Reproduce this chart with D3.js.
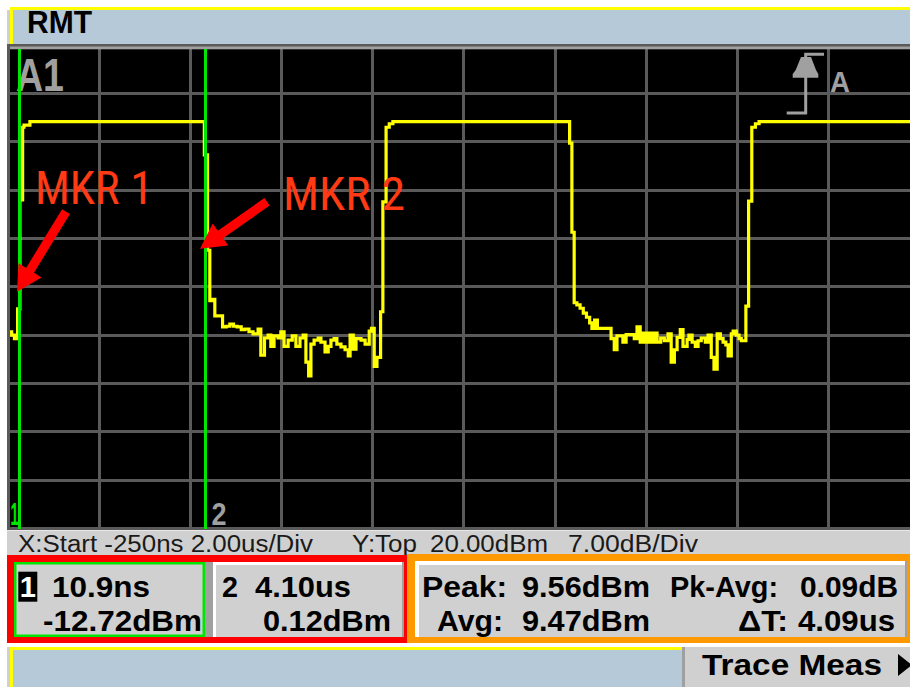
<!DOCTYPE html>
<html><head><meta charset="utf-8">
<script src="https://cdn.jsdelivr.net/npm/d3@7"></script>
<style>
html,body{margin:0;padding:0;background:#fff;}
svg{display:block;}
text{font-family:"Liberation Sans",Arial,sans-serif;}
</style></head>
<body>
<svg id="c" width="910" height="687"></svg>
<script>
// ---- instrument settings ----
const xStartNs = -250;
const xPerDivUs = 2.00;
const yTopDbm = 20.00;
const yPerDivDb = 7.00;
const divisionIndex = [0,1,2,3,4,5,6,7,8,9,10];

// ---- trace (time in us, power in dBm) ----
const traceTimeUs = [-0.25,-0.18,-0.12,-0.05,0.00,0.06,0.09,0.22,
 4.05,4.12,4.17,4.22,4.28,
 4.45,4.53,4.61,4.69,4.77,4.86,4.94,5.03,5.12,
 5.23,5.29,5.37,5.45,5.51,5.58,5.67,5.73,5.80,5.89,
 5.98,6.06,6.15,6.22,6.28,6.34,6.39,6.46,6.55,6.61,
 6.70,6.77,6.83,6.90,6.96,7.05,7.14,7.21,7.25,7.32,
 7.38,7.49,7.58,7.67,7.72,7.78,7.84,7.92,7.97,8.04,
 8.11,8.19,
 12.07,12.12,12.17,12.23,12.30,12.37,12.44,12.51,12.56,12.62,12.68,
 12.98,13.05,13.11,13.24,13.31,13.49,13.55,13.62,13.68,13.75,
 13.80,13.86,13.93,13.99,14.07,14.15,14.23,14.30,14.37,14.43,
 14.50,14.56,14.65,14.69,14.76,14.83,14.89,14.96,15.05,15.11,
 15.18,15.24,15.31,15.38,15.44,15.50,15.55,15.62,15.66,15.73,
 15.79,15.84,15.94,16.00,16.07,16.15,16.23,19.75];
const tracePowerDbm = [-21.5,-22.0,-22.5,-18.2,-2.4,8.1,8.4,8.9,
 4.1,-9.7,-17.0,-16.8,-19.2,
 -20.8,-20.7,-20.4,-20.7,-20.8,-21.2,-21.1,-21.5,-21.8,
 -21.1,-24.9,-22.4,-22.0,-23.6,-22.1,-22.4,-21.5,-23.6,-22.7,
 -22.1,-23.6,-22.4,-22.0,-25.9,-27.9,-23.3,-22.7,-22.4,-23.0,
 -24.4,-23.6,-22.7,-22.5,-23.3,-23.7,-24.1,-25.0,-22.0,-24.0,
 -22.5,-22.7,-23.3,-21.4,-21.0,-26.5,-25.2,-18.6,-2.7,8.1,
 8.6,8.9,
 5.8,-7.1,-17.3,-17.6,-18.1,-18.8,-19.4,-20.2,-21.0,-19.8,-21.0,
 -22.5,-24.1,-22.1,-23.0,-21.9,-22.5,-20.8,-23.0,-21.7,-23.0,
 -21.7,-23.0,-21.7,-23.0,-22.4,-22.8,-21.8,-25.9,-24.1,-22.3,
 -21.2,-23.6,-22.6,-22.0,-23.0,-23.6,-22.8,-22.4,-23.0,-22.0,
 -25.2,-26.9,-21.8,-22.5,-23.0,-23.4,-25.0,-21.8,-21.4,-22.0,
 -22.5,-22.8,-17.8,-2.6,8.1,8.6,8.9,8.9];

// ---- markers ----
const markerIds = [1, 2];
const markerTimeUs = [0.0109, 4.10];
const markerPowerDbm = [-12.72, 0.12];

// ---- annotations ----
const annotationLabels = ["MKR 1", "MKR 2"];
const annotationTipDbm = [-15.7, -9.5];

// ---- trace measurements ----
const measLabels = ["Peak:", "Avg:", "Pk-Avg:", "\u0394T:"];
const measValues = [9.56, 9.47, 0.09, 4.09];
const measUnits = ["dBm", "dBm", "dB", "us"];

const headerLabel = "RMT";
const traceLabel = "A1";
const softkeyLabel = "Trace Meas";

// ---------------------------------------------------------------
const svg = d3.select("#c");
const W = 910, H = 687;
const C = {yellow:"#FFFF00", blue:"#B5C9D8", lgray:"#D0D0D0", mgray:"#A0A0A0",
  grid:"#5A5A5A", green:"#00E600", red:"#FF0000", orange:"#FF9900", note:"#FF3A14"};

const x0 = xStartNs/1000;
const x = d3.scaleLinear().domain([x0, x0 + 10*xPerDivUs]).range([8.5, 919.4]);
const y = d3.scaleLinear().domain([yTopDbm, yTopDbm - 10*yPerDivDb]).range([45, 528.7]);

function rect(x1,y1,w,h,fill){ return svg.append("rect").attr("x",x1).attr("y",y1).attr("width",w).attr("height",h).attr("fill",fill); }
function txt(s,xx,yy,size,opts={}){
  const t = svg.append("text").attr("x",xx).attr("y",yy).attr("font-size",size)
    .attr("fill",opts.fill||"#000").attr("font-weight",opts.weight||"normal")
    .attr("text-anchor",opts.anchor||"start").text(s);
  if(opts.len){ t.attr("textLength",opts.len).attr("lengthAdjust","spacingAndGlyphs"); }
  if(opts.family){ t.style("font-family",opts.family); }
  return t;
}

rect(0,0,W,H,"#fff");

// header
rect(7,10,3,37,C.lgray);
rect(10,7,W-10,3,C.yellow);
rect(10,7,3,40,C.yellow);
rect(13,10,W-13,36,C.blue);
txt(headerLabel,27,33,31,{weight:"bold",len:65});

// plot area
rect(7,45,W-7,485,"#000");
const g = svg.append("g").attr("shape-rendering","crispEdges");
g.selectAll("line.v").data(divisionIndex).enter().append("line")
  .attr("x1",d=>x(x0+d*xPerDivUs)).attr("x2",d=>x(x0+d*xPerDivUs))
  .attr("y1",y(yTopDbm)).attr("y2",y(yTopDbm-10*yPerDivDb)+1.5)
  .attr("stroke",C.grid).attr("stroke-width",3);
g.selectAll("line.h").data(divisionIndex).enter().append("line")
  .attr("x1",7).attr("x2",W)
  .attr("y1",d=>y(yTopDbm-d*yPerDivDb)).attr("y2",d=>y(yTopDbm-d*yPerDivDb))
  .attr("stroke",C.grid).attr("stroke-width",3);
rect(10,46.5,W-10,2.8,C.mgray);

// trace label
txt(traceLabel,16,91,46,{fill:C.mgray,weight:"bold",len:48});

// trigger symbol
const trig = svg.append("g").attr("stroke",C.mgray).attr("stroke-width",3).attr("fill","none");
trig.append("path").attr("d","M805.7,53 L805.7,114 M804.2,54.2 L824,54.2 M786.7,113 L807,113");
svg.append("polygon").attr("points","801,57 811,57 816,70 818.3,74 818.3,77.7 792.7,77.7 792.7,74 795.7,70").attr("fill",C.mgray);
txt("A",830,92,30,{fill:C.mgray,weight:"bold",len:20});

// trace
svg.append("clipPath").attr("id","clip").append("rect").attr("x",10).attr("y",49).attr("width",W-10).attr("height",479);
const pts = traceTimeUs.map((t,i)=>[t,tracePowerDbm[i]]);
svg.append("path").attr("clip-path","url(#clip)")
  .attr("d", d3.line().x(d=>x(d[0])).y(d=>y(d[1])).curve(d3.curveStepAfter)(pts))
  .attr("fill","none").attr("stroke",C.yellow).attr("stroke-width",3.2)
  .attr("stroke-linejoin","miter").attr("stroke-linecap","square");

// marker lines
svg.selectAll("line.mk").data(markerTimeUs).enter().append("line")
  .attr("x1",d=>x(d)-0.8).attr("x2",d=>x(d)-0.8).attr("y1",49).attr("y2",529)
  .attr("stroke",C.green).attr("stroke-width",3).attr("shape-rendering","crispEdges");
txt(String(markerIds[0]),x(markerTimeUs[0])-2,525,32,{fill:C.green,weight:"bold",anchor:"end",len:8});
txt(String(markerIds[1]),x(markerTimeUs[1])+5,525,32,{fill:C.mgray,weight:"bold",len:15});

// annotation arrows
function arrow(tip, dx, dy){
  const tail=[tip[0]+dx, tip[1]+dy];
  const len=Math.hypot(dx,dy), ux=-dx/len, uy=-dy/len, px=-uy, py=ux;
  const hl=25, hw=13.5, sw=4.6;
  const bx=tip[0]-ux*hl, by=tip[1]-uy*hl;
  const P=[[tail[0]+px*sw,tail[1]+py*sw],[bx+px*sw,by+py*sw],[bx+px*hw,by+py*hw],tip,
           [bx-px*hw,by-py*hw],[bx-px*sw,by-py*sw],[tail[0]-px*sw,tail[1]-py*sw]];
  svg.append("polygon").attr("points",P.map(p=>p.join(",")).join(" ")).attr("fill",C.red);
}
const tip1=[x(markerTimeUs[0])-3.4, y(annotationTipDbm[0])];
const tip2=[x(markerTimeUs[1])-6.6, y(annotationTipDbm[1])];
arrow(tip1,49,-80);
arrow(tip2,67,-47);
const narrow = "'Liberation Sans Narrow','Roboto Condensed','Liberation Sans',sans-serif";
txt(annotationLabels[0],tip1[0]+18,tip1[1]-88,46,{fill:C.note,len:118,family:narrow});
txt(annotationLabels[1],tip2[0]+83,tip2[1]-39,46,{fill:C.note,len:122,family:narrow});

// status bar
rect(7,530.5,W-7,24.5,C.lgray);
txt(`X:Start ${xStartNs}ns ${xPerDivUs.toFixed(2)}us/Div`,18,552,23,{fill:"#1a1a1a",len:295});
txt("Y:Top",352,552,23,{fill:"#1a1a1a",len:65});
txt(`${yTopDbm.toFixed(2)}dBm`,430,552,23,{fill:"#1a1a1a",len:118});
txt(`${yPerDivDb.toFixed(2)}dB/Div`,568,552,23,{fill:"#1a1a1a",len:130});

// marker readouts
function fmtTime(t){ return Math.abs(t)<1 ? (t*1000).toFixed(1)+"ns" : t.toFixed(2)+"us"; }
function fmtPow(p){ return p.toFixed(2)+"dBm"; }
rect(7,555,400,88,C.red);
rect(14,562,386,75,C.lgray);
// box 1
rect(14,562,191,75,C.green);
rect(16.5,564.5,186,70,C.lgray);
rect(205,562,8,75,C.mgray);
// box 2
rect(213,562,191,75,"#fff");
rect(216,565,188,72,C.lgray);
rect(402,562,2,75,C.mgray);
rect(18.3,571.7,19,30,"#000");
txt(String(markerIds[0]),27.8,597,29,{fill:"#fff",weight:"bold",anchor:"middle"});
txt(fmtTime(markerTimeUs[0]),52,597,29,{weight:"bold",len:98});
txt(fmtPow(markerPowerDbm[0]),202,631,29,{weight:"bold",anchor:"end",len:159});
txt(String(markerIds[1]),222,597,29,{weight:"bold",len:16});
txt(fmtTime(markerTimeUs[1]),255,597,29,{weight:"bold",len:96});
txt(fmtPow(markerPowerDbm[1]),391,631,29,{weight:"bold",anchor:"end",len:128});

// measurement box
rect(407,554,503,89,C.orange);
rect(415,561,492,76,"#fff");
rect(419,565,488,72,C.lgray);
rect(905,561,2,76,C.mgray);
const mPos = [[422,597,85,522,128],[437,631,66,522,128],[670,597,108,800,98],[738,631,50,798,97]];
measLabels.forEach((lab,i)=>{
  const p=mPos[i];
  txt(lab,p[0],p[1],29,{weight:"bold",len:p[2]});
  txt(measValues[i].toFixed(2)+measUnits[i],p[3],p[1],29,{weight:"bold",len:p[4]});
});

// bottom bar
rect(7,647,3,40,C.lgray);
rect(10,647,672,3,C.yellow);
rect(10,647,3,40,C.yellow);
rect(13,650,669,37,C.blue);
rect(682,647,3,40,C.mgray);
rect(685,647,W-685,40,C.lgray);
txt(softkeyLabel,702,675,30,{weight:"bold",len:180});
svg.append("polygon").attr("points","898,654 912,665 898,676").attr("fill","#000");
</script>
</body></html>
